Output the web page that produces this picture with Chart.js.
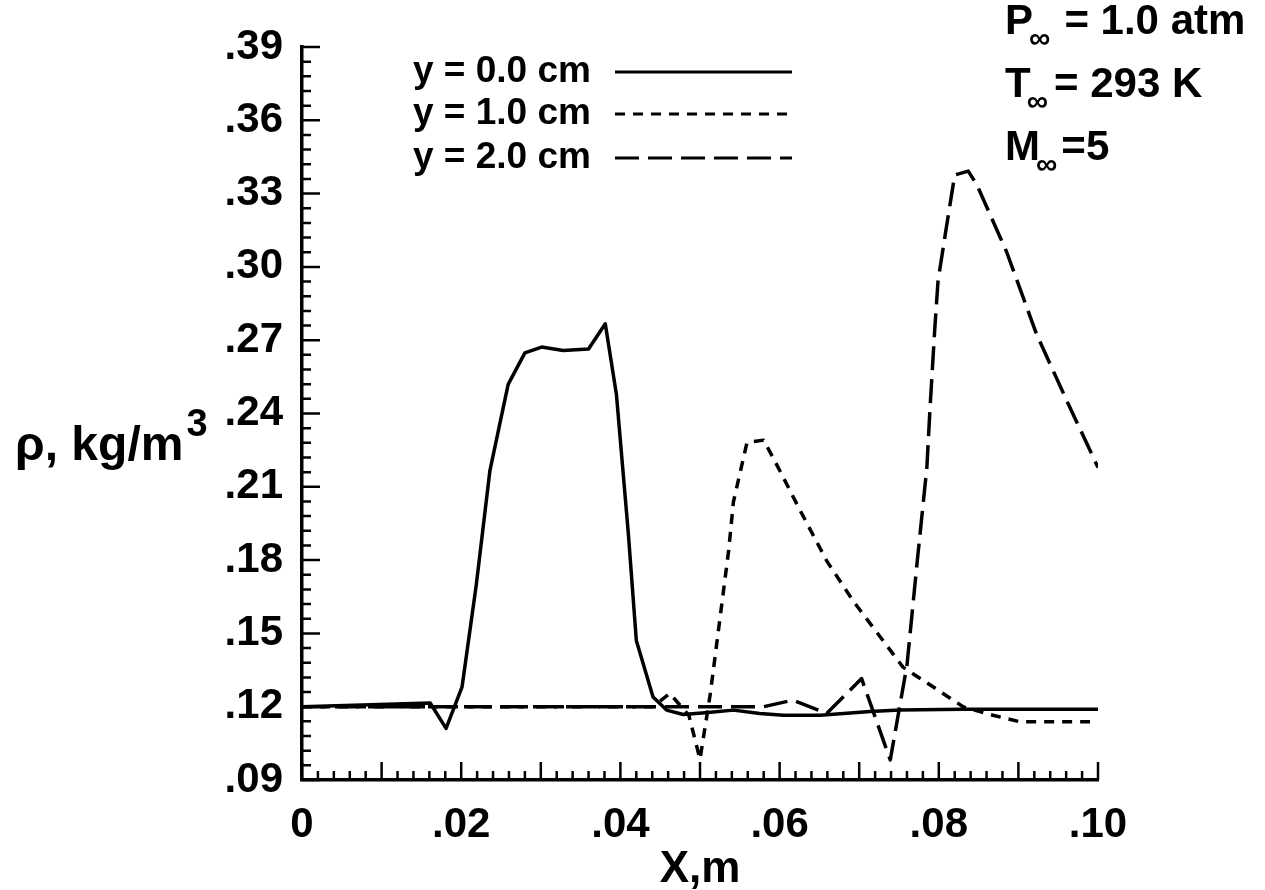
<!DOCTYPE html>
<html lang="en">
<head>
    <meta charset="UTF-8">
    <title>Density profiles</title>
    <script src="https://cdn.jsdelivr.net/npm/chart.js"></script>
    <style>
        body {
            margin: 0;
            padding: 0;
            background: #ffffff;
        }
        #wrap {
            width: 1265px;
            height: 890px;
        }
    </style>
</head>
<body>
    <div id="wrap"><canvas id="rhoChart" width="1265" height="890"></canvas></div>

    <script>
        // tick labels
        const xTickValues = [0, 0.02, 0.04, 0.06, 0.08, 0.10];
        const xTickLabels = ['0', '.02', '.04', '.06', '.08', '.10'];
        const yTickValues = [0.09, 0.12, 0.15, 0.18, 0.21, 0.24, 0.27, 0.30, 0.33, 0.36, 0.39];
        const yTickLabels = ['.09', '.12', '.15', '.18', '.21', '.24', '.27', '.30', '.33', '.36', '.39'];

        // series
        const seriesNames = ['y = 0.0 cm', 'y = 1.0 cm', 'y = 2.0 cm'];

        const x0 = [0, 0.0161, 0.0181, 0.0201, 0.0219, 0.0236, 0.0259, 0.0280, 0.0301, 0.0328, 0.0360, 0.0381,
                    0.0395, 0.0410, 0.0420, 0.0441, 0.0458, 0.0479, 0.0510, 0.0542, 0.0575, 0.0605, 0.0651,
                    0.0714, 0.0751, 0.0831, 0.1000];
        const y0 = [0.120, 0.1215, 0.1111, 0.128, 0.170, 0.2165, 0.2519, 0.2648, 0.2672, 0.2658, 0.2664, 0.2767,
                    0.2478, 0.1907, 0.1471, 0.1240, 0.1186, 0.1168, 0.1176, 0.1186, 0.1172, 0.1165, 0.1165,
                    0.1180, 0.1186, 0.1190, 0.1190];

        const x1 = [0, 0.0441, 0.0462, 0.0486, 0.0500, 0.0513, 0.0536, 0.0542, 0.0559, 0.0580, 0.0596, 0.0626,
                    0.0659, 0.0693, 0.0755, 0.0831, 0.0868, 0.0902, 0.0990];
        const y1 = [0.120, 0.120, 0.1254, 0.1165, 0.0985, 0.1254, 0.1839, 0.2038, 0.2281, 0.2291, 0.2193, 0.2002,
                    0.1798, 0.1630, 0.1362, 0.1199, 0.1165, 0.1138, 0.1138];

        const x2 = [0, 0.0580, 0.0617, 0.0659, 0.0703, 0.0739, 0.0760, 0.0773, 0.0785, 0.0789, 0.0795, 0.0799,
                    0.0808, 0.0820, 0.0837, 0.0848, 0.0885, 0.0923, 0.0961, 0.1000];
        const y2 = [0.120, 0.120, 0.1227, 0.1172, 0.1315, 0.0982, 0.1369, 0.1798, 0.2179, 0.2423, 0.2750, 0.2941,
                    0.3131, 0.3376, 0.3392, 0.3335, 0.3063, 0.2723, 0.2451, 0.2179];

        const FONT = '"Liberation Sans", Arial, sans-serif';
        const dashes = [[], [10, 8], [24, 9]];

        function pts(xs, ys) {
            return xs.map((x, i) => ({ x: x, y: ys[i] }));
        }

        const datasets = [pts(x0, y0), pts(x1, y1), pts(x2, y2)].map((d, i) => ({
            label: seriesNames[i],
            data: d,
            showLine: true,
            pointRadius: 0,
            borderColor: '#000',
            borderWidth: 3.5,
            borderDash: dashes[i],
            borderJoinStyle: 'round',
            tension: 0
        }));

        // tick marks inside the axes, legend, title text
        const overlay = {
            id: 'overlay',
            afterDraw(chart) {
                const ctx = chart.ctx;
                const xs = chart.scales.x, ys = chart.scales.y;
                const area = chart.chartArea;
                ctx.save();
                ctx.strokeStyle = '#000';
                ctx.lineWidth = 2.5;
                ctx.beginPath();
                for (let k = 0; k <= 50; k++) {
                    const px = xs.getPixelForValue(k * 0.002);
                    const len = (k % 5 === 0) ? 18 : 9;
                    ctx.moveTo(px, area.bottom);
                    ctx.lineTo(px, area.bottom - len);
                }
                for (let k = 0; k <= 50; k++) {
                    const py = ys.getPixelForValue(0.09 + k * 0.006);
                    const len = (k % 5 === 0) ? 18 : 9;
                    ctx.moveTo(area.left, py);
                    ctx.lineTo(area.left + len, py);
                }
                ctx.stroke();

                // legend
                ctx.fillStyle = '#000';
                ctx.textBaseline = 'middle';
                ctx.textAlign = 'left';
                ctx.font = 'bold 37px ' + FONT;
                const rows = [72, 114, 158];
                chart.data.datasets.forEach((ds, i) => {
                    ctx.fillText(ds.label, 413, rows[i]);
                    ctx.save();
                    ctx.lineWidth = 3;
                    ctx.setLineDash(ds.borderDash);
                    ctx.beginPath();
                    ctx.moveTo(615, rows[i]);
                    ctx.lineTo(792, rows[i]);
                    ctx.stroke();
                    ctx.restore();
                });

                // free stream conditions
                ctx.textBaseline = 'alphabetic';
                const cond = [['P', '= 1.0 atm', 34, 14], ['T', '= 293 K', 97, 6], ['M', '=5', 160, 4]];
                cond.forEach(c => {
                    ctx.font = 'bold 42px ' + FONT;
                    ctx.fillText(c[0], 1005, c[2]);
                    const w = ctx.measureText(c[0]).width;
                    ctx.font = 'bold 30px ' + FONT;
                    ctx.fillText('\u221E', 1005 + w - 4, c[2] + 14);
                    const wi = ctx.measureText('\u221E').width;
                    ctx.font = 'bold 42px ' + FONT;
                    ctx.fillText(c[1], 1005 + w - 4 + wi + c[3], c[2]);
                });

                // axis titles
                ctx.font = 'bold 44px ' + FONT;
                ctx.textAlign = 'center';
                ctx.fillText('X,m', 700, 882);
                ctx.textAlign = 'left';
                ctx.font = 'bold 48px ' + FONT;
                ctx.fillText('\u03C1, kg/m', 15, 460);
                const tw = ctx.measureText('\u03C1, kg/m').width;
                ctx.font = 'bold 38px ' + FONT;
                ctx.fillText('3', 15 + tw + 3, 436);
                ctx.restore();
            }
        };

        const ctx = document.getElementById('rhoChart').getContext('2d');
        const rhoChart = new Chart(ctx, {
            type: 'scatter',
            data: { datasets: datasets },
            options: {
                responsive: false,
                animation: false,
                devicePixelRatio: 1,
                layout: { padding: { top: 47, right: 167, left: 0, bottom: 0 } },
                plugins: {
                    legend: { display: false },
                    tooltip: { enabled: false }
                },
                scales: {
                    x: {
                        type: 'linear',
                        min: 0,
                        max: 0.1,
                        afterBuildTicks: s => { s.ticks = xTickValues.map(v => ({ value: v })); },
                        afterFit: s => { s.height = 110; },
                        grid: { display: false, drawTicks: false },
                        border: { display: true, color: '#000', width: 3.5 },
                        ticks: {
                            autoSkip: false,
                            maxRotation: 0,
                            padding: 20,
                            color: '#000',
                            font: { family: FONT, size: 42, weight: 'bold' },
                            callback: (v, i) => xTickLabels[i]
                        }
                    },
                    y: {
                        type: 'linear',
                        min: 0.09,
                        max: 0.39,
                        afterBuildTicks: s => { s.ticks = yTickValues.map(v => ({ value: v })); },
                        afterFit: s => { s.width = 302; },
                        grid: { display: false, drawTicks: false },
                        border: { display: true, color: '#000', width: 3.5 },
                        ticks: {
                            autoSkip: false,
                            padding: 19,
                            color: '#000',
                            font: { family: FONT, size: 42, weight: 'bold' },
                            callback: (v, i) => yTickLabels[i]
                        }
                    }
                }
            },
            plugins: [overlay]
        });
    </script>
</body>
</html>
